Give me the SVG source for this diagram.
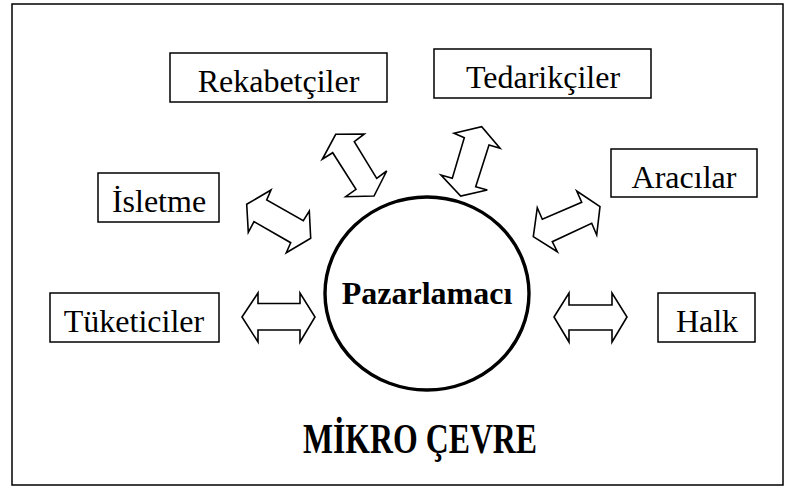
<svg xmlns="http://www.w3.org/2000/svg" width="796" height="488" viewBox="0 0 796 488">
  <style>
    .frame { fill: none; stroke: #000; stroke-width: 1.5; }
    .box { fill: #fff; stroke: #000; stroke-width: 1.5; }
    .label { font-family: "Liberation Serif", "Times New Roman", serif; font-size: 32px; fill: #000; text-anchor: middle; }
    .bold { font-weight: bold; }
    .arrow { fill: #fff; stroke: #000; stroke-width: 1.6; stroke-linejoin: miter; }
    .core { fill: #fff; stroke: #000; stroke-width: 3.4; }
  </style>

  <!-- outer border -->
  <rect class="frame" x="12" y="4" width="771" height="481"/>

  <!-- two-headed block arrows between the centre and each actor -->
  <g id="connectors">
    <polygon class="arrow" points="246.7,204.3 271,190 266.7,200 303.3,220.7 309.3,211 310.7,238.3 286.3,252.7 290.7,242.7 254,221.7 248.3,232.3"/>
    <polygon class="arrow" points="335.7,134.3 364.3,134 354.3,141.7 376.7,178.3 386.7,171 374,196 345.7,196.7 356,189.3 332.7,152.7 322.3,159.3"/>
    <polygon class="arrow" points="454,133.3 481.7,126.7 500,148.3 489,145 475.7,186.7 487.3,190 460.7,196 441,175 452.3,178.3 464.3,137.7"/>
    <polygon class="arrow" points="537.3,207.7 542.3,219.3 581.7,202.3 576.7,191 600,206.7 596.7,235 591.7,223.3 552.3,241.7 557.3,251.7 533.3,236.7"/>
    <polygon class="arrow" points="242,317 258,293 258,303.5 300,303.5 300,293 315,317 300,342 300,330 258,330 258,342"/>
    <polygon class="arrow" points="554,317 569,293 569,305 612,305 612,293 627,317 612,342 612,330 569,330 569,342"/>
  </g>

  <g id="pazarlamaci">
    <ellipse class="core" cx="427" cy="293.5" rx="102" ry="96.5"/>
    <text class="label bold" x="427" y="304">Pazarlamacı</text>
  </g>

  <g id="rekabetciler">
    <rect class="box" x="170" y="53" width="217" height="49"/>
    <text class="label" x="278.5" y="92">Rekabetçiler</text>
  </g>

  <g id="tedarikciler">
    <rect class="box" x="434" y="49" width="217" height="49"/>
    <text class="label" x="543" y="88">Tedarikçiler</text>
  </g>

  <g id="isletme">
    <rect class="box" x="98" y="173" width="121" height="49"/>
    <text class="label" x="159" y="212">İsletme</text>
  </g>

  <g id="aracilar">
    <rect class="box" x="611" y="149" width="146" height="48"/>
    <text class="label" x="684" y="187.5">Aracılar</text>
  </g>

  <g id="tuketiciler">
    <rect class="box" x="50" y="293" width="169" height="49"/>
    <text class="label" x="134" y="332">Tüketiciler</text>
  </g>

  <g id="halk">
    <rect class="box" x="658" y="293" width="97" height="49"/>
    <text class="label" x="707" y="332">Halk</text>
  </g>

  <g id="title">
    <text class="label bold" x="420" y="453" style="font-size:42px" textLength="234" lengthAdjust="spacingAndGlyphs">MİKRO ÇEVRE</text>
  </g>
</svg>
